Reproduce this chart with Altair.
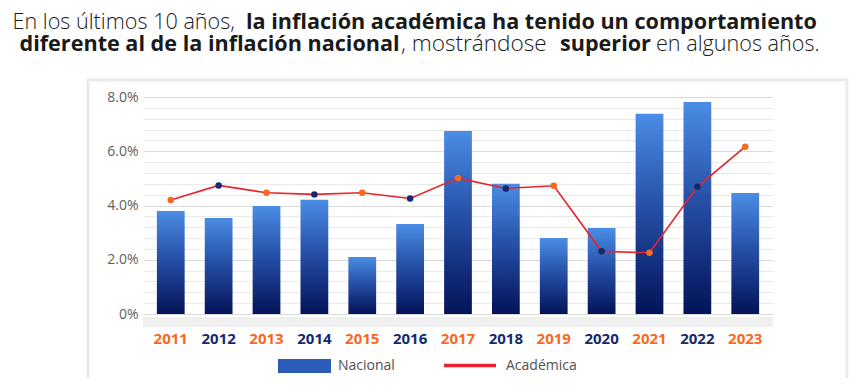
import altair as alt
import pandas as pd

years = ["2011", "2012", "2013", "2014", "2015", "2016", "2017",
         "2018", "2019", "2020", "2021", "2022", "2023"]
nacional = [3.80, 3.54, 3.98, 4.21, 2.10, 3.32, 6.75, 4.80, 2.80, 3.17, 7.38, 7.82, 4.46]
academica = [4.20, 4.74, 4.47, 4.41, 4.47, 4.26, 5.01, 4.63, 4.73, 2.31, 2.26, 4.69, 6.17]
y_ticks = [round(i * 0.004, 3) for i in range(21)]

title_segments = [
    ("En los últimos 10 años,", 300, 12.5, 1, 21.6),
    ("la inflación académica ha tenido un comportamiento", "bold", 246, 1, 21.6),
    ("diferente al de la inflación nacional", "bold", 19.5, 2, 21.6),
    (", mostrándose", 300, 401, 2, 22.6),
    ("superior", "bold", 560, 2, 21.6),
    ("en algunos años.", 300, 656, 2, 21.6),
]
legend_labels = ["Nacional", "Académica"]

FONT = "Open Sans"
ORANGE = "#f8691f"
NAVY = "#152a6e"
RED = "#e8232b"

W, H = 630, 217
PL, PT = 135, 89  # plot area offset from chart origin

df = pd.DataFrame({
    "year": years,
    "nacional": [v / 100 for v in nacional],
    "academica": [v / 100 for v in academica],
})

one = alt.Data(values=[{"k": 1}])

xenc = alt.X(
    "year:N",
    sort=years,
    scale=alt.Scale(paddingInner=0.42, paddingOuter=0.29),
    axis=alt.Axis(
        title=None, labelAngle=0, ticks=False, domain=False,
        labelFont=FONT, labelFontSize=15, labelFontWeight="bold",
        labelPadding=17, labelBaseline="top",
        labelColor={"condition": {"test": "toNumber(datum.value) % 2 == 1", "value": ORANGE},
                    "value": NAVY},
    ),
)

yscale = alt.Scale(domain=[0, 0.08], nice=False)
yaxis = alt.Axis(
    title=None, values=y_ticks, tickCount=len(y_ticks), domain=False, ticks=False,
    labelOverlap=False,
    labelFont=FONT, labelFontSize=14, labelColor="#5f5f5f", labelPadding=5,
    labelExpr="datum.value == 0 ? '0%' : (round(datum.value*1000) % 20 == 0 ? format(datum.value, '.1%') : '')",
    gridColor={"condition": {"test": "round(datum.value*1000) % 20 == 0", "value": "#dadada"},
               "value": "#eaeaea"},
    gridWidth=1,
)

card = alt.Chart(one).mark_rect(
    fillOpacity=0, stroke="#ebebeb", strokeWidth=3
).encode(
    x=alt.value(88 - 8 - PL), x2=alt.value(847 - 8 - PL),
    y=alt.value(80 - 8 - PT), y2=alt.value(383 - 8 - PT),
)

strip = alt.Chart(one).mark_rect(color="#f0f0f0").encode(
    x=alt.value(0), x2=alt.value(W), y=alt.value(220), y2=alt.value(230)
)

bars = alt.Chart(df).mark_bar(
    color=alt.Gradient(
        gradient="linear",
        stops=[alt.GradientStop(color="#4b8de5", offset=0),
               alt.GradientStop(color="#2751a9", offset=0.45),
               alt.GradientStop(color="#031358", offset=1)],
        x1=0, x2=0, y1=0, y2=1,
    )
).encode(
    x=xenc,
    y=alt.Y("nacional:Q", scale=yscale, axis=yaxis),
)

line = alt.Chart(df).mark_line(color=RED, strokeWidth=1.6).encode(
    x=alt.X("year:N", sort=years),
    y=alt.Y("academica:Q", scale=yscale, axis=yaxis),
)

points = alt.Chart(df).mark_point(filled=True, size=42, opacity=1).encode(
    x=alt.X("year:N", sort=years),
    y=alt.Y("academica:Q", scale=yscale, axis=yaxis),
    color=alt.condition("toNumber(datum.year) % 2 == 1", alt.value(ORANGE), alt.value(NAVY)),
)

title_layers = []
for text, weight, px, line_no, fs in title_segments:
    base_y = 29 if line_no == 1 else 51
    title_layers.append(
        alt.Chart(one).mark_text(
            text=text, font=FONT, fontSize=fs, fontWeight=weight,
            color="#1a1a1a", align="left", baseline="alphabetic",
        ).encode(x=alt.value(px - 8 - PL), y=alt.value(base_y - 8 - PT))
    )

leg_y = 366 - 8 - PT
leg_swatch = alt.Chart(one).mark_rect(color="#2c5cb9").encode(
    x=alt.value(278 - 8 - PL), x2=alt.value(331 - 8 - PL),
    y=alt.value(359 - 8 - PT), y2=alt.value(373 - 8 - PT),
)
leg_line = alt.Chart(one).mark_rule(color=RED, strokeWidth=3.5).encode(
    x=alt.value(444 - 8 - PL), x2=alt.value(496 - 8 - PL), y=alt.value(leg_y - 0.5)
)
leg_text1 = alt.Chart(one).mark_text(
    text=legend_labels[0], font=FONT, fontSize=14, color="#505050",
    align="left", baseline="middle",
).encode(x=alt.value(338 - 8 - PL), y=alt.value(leg_y))
leg_text2 = alt.Chart(one).mark_text(
    text=legend_labels[1], font=FONT, fontSize=14, color="#505050",
    align="left", baseline="middle",
).encode(x=alt.value(506 - 8 - PL), y=alt.value(leg_y))

chart = alt.layer(
    card, strip, bars, line, points, *title_layers,
    leg_swatch, leg_line, leg_text1, leg_text2,
).properties(
    width=W, height=H,
    autosize=alt.AutoSizeParams(type="none"),
    padding={"left": PL, "top": PT, "right": 77, "bottom": 64},
    background="#ffffff",
).configure_view(stroke=None)

chart.save("out.html", embed_options={"renderer": "svg", "actions": False})
